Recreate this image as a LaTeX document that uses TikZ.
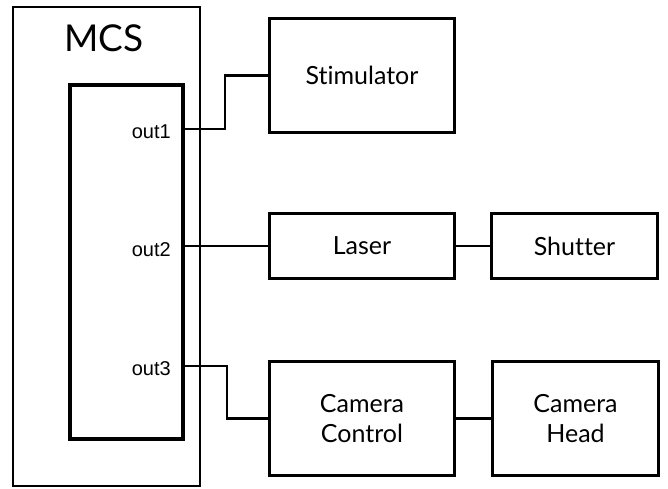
\documentclass[tikz,border=0pt]{standalone}
\usepackage{fontspec}
\setmainfont{Lato}[Ligatures=NoCommon]
\newfontfamily\portfont{Liberation Sans}
\usetikzlibrary{positioning}

\begin{document}
\begin{tikzpicture}[
  x=1pt, y=-1pt,
  box/.style={draw=black, line width=3pt, inner sep=0pt, outer sep=0pt, minimum height=114pt, align=center, font=\fontsize{25}{30}\selectfont},
  wide/.style={box, minimum width=185pt},
  narrow/.style={box, minimum width=166pt},
  low/.style={minimum height=65pt},
  port/.style={font=\portfont\fontsize{20}{22}\selectfont, inner sep=0pt, anchor=east},
  wire/.style={line width=2.5pt, black}
]
\useasboundingbox (0,0) rectangle (668,488);

% MCS unit with its output block
\node[box, line width=2.8pt, minimum width=187pt, minimum height=479pt] (mcs) at (106.5,246.5) {};
\node[font=\fontsize{37}{40}\selectfont, inner sep=0pt] (mcslabel) at (104,38) {MCS};
\node[box, line width=3.3pt, minimum width=113pt, minimum height=354pt] (outs) at (126.5,262) {};

% devices
\node[wide] (stim) at (362,75.5) {Stimulator};
\node[wide, low, below=81pt of stim] (laser) {Laser};
\node[wide, below=83pt of laser] (camctrl) {Camera\\Control};
\node[narrow, low, right=37pt of laser] (shutter) {Shutter};
\node[narrow, right=38pt of camctrl] (camhead) {Camera\\Head};

% ports
\coordinate (p1) at (183,129);
\coordinate (p2) at (outs.east |- laser.west);
\coordinate (p3) at (183,366);
\node[port] (l1) at (171,132) {out1};
\node[port] (l2) at (171,250) {out2};
\node[port] (l3) at (171,369) {out3};

% wiring
\draw[wire] (p1) -- ++(42,0) |- (stim.west);
\draw[wire] (p2) -- (laser.west);
\draw[wire] (p3) -- ++(44,0) |- (camctrl.west);
\draw[wire] (laser) -- (shutter);
\draw[wire] (camctrl) -- (camhead);

\end{tikzpicture}
\end{document}
